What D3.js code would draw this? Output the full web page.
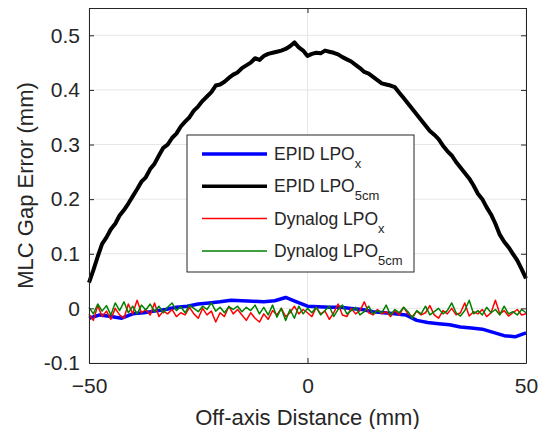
<!DOCTYPE html>
<html>
<head>
<meta charset="utf-8">
<script src="https://cdn.jsdelivr.net/npm/d3@7"></script>
<style>
  body { margin: 0; background: #fff; }
  svg { font-family: "Liberation Sans", Arial, Helvetica, sans-serif; }
</style>
</head>
<body>
<div id="chart"></div>
<script>
// x positions (mm)
const xFine = d3.range(-50, 51, 1);
const xCoarse = d3.range(-50, 50.1, 2.5);

// EPID LPO_5cm (black), 1 mm steps
const epid5cm = [
    0.047, 0.070, 0.095, 0.118, 0.130, 0.145, 0.155, 0.170, 0.180, 0.192,
    0.205, 0.218, 0.232, 0.240, 0.255, 0.265, 0.280, 0.294, 0.300, 0.312,
    0.320, 0.333, 0.342, 0.350, 0.362, 0.370, 0.380, 0.388, 0.396, 0.408,
    0.410, 0.415, 0.422, 0.428, 0.432, 0.440, 0.445, 0.450, 0.458, 0.455,
    0.462, 0.466, 0.468, 0.470, 0.472, 0.475, 0.480, 0.487, 0.478, 0.472,
    0.462, 0.466, 0.468, 0.467, 0.472, 0.470, 0.468, 0.465, 0.460, 0.456,
    0.452, 0.446, 0.440, 0.433, 0.430, 0.424, 0.418, 0.412, 0.410, 0.408,
    0.405, 0.395, 0.385, 0.375, 0.365, 0.355, 0.345, 0.335, 0.325, 0.318,
    0.310, 0.298, 0.288, 0.280, 0.268, 0.258, 0.248, 0.238, 0.225, 0.210,
    0.200, 0.185, 0.172, 0.155, 0.135, 0.122, 0.112, 0.100, 0.088, 0.072,
    0.055
];

// EPID LPO_x (blue), 2.5 mm steps
const epidX = [
    -0.018, -0.012, -0.015, -0.018, -0.010, -0.008, -0.005, -0.002, 0.002, 0.004,
    0.008, 0.010, 0.012, 0.015, 0.014, 0.013, 0.012, 0.014, 0.020, 0.012,
    0.004, 0.003, 0.002, 0.002, 0.000, -0.002, -0.006, -0.008, -0.010, -0.012,
    -0.022, -0.026, -0.028, -0.030, -0.034, -0.036, -0.038, -0.044, -0.050, -0.052,
    -0.045
];

// Dynalog LPO_x (red), 1 mm steps
const dynX = [
    -0.010, -0.022, 0.005, -0.015, -0.005, -0.020, 0.000, -0.012, -0.018, 0.008,
    -0.010, 0.015, -0.008, -0.002, -0.012, 0.010, -0.015, -0.005, -0.010, -0.002,
    -0.015, -0.008, -0.012, 0.002, -0.010, -0.018, 0.000, -0.012, -0.005, -0.025,
    -0.008, -0.015, 0.004, -0.010, -0.002, -0.012, -0.022, -0.008, -0.018, -0.025,
    -0.010, -0.020, -0.004, -0.012, 0.000, -0.015, -0.008, 0.004, -0.010, -0.002,
    -0.008, -0.015, 0.002, -0.010, -0.005, -0.020, -0.008, 0.008, -0.012, -0.015,
    0.000, -0.010, -0.004, 0.012, -0.008, -0.012, -0.002, -0.010, -0.006, -0.015,
    -0.004, -0.012, 0.002, -0.010, -0.015, -0.005, -0.012, -0.008, 0.005, -0.012,
    -0.018, -0.004, -0.010, 0.000, -0.012, -0.008, 0.010, -0.014, -0.006, -0.010,
    -0.002, -0.015, -0.008, 0.015, -0.010, -0.004, -0.014, -0.008, -0.002, -0.012,
    -0.010
];

// Dynalog LPO_5cm (green), 1 mm steps
const dyn5cm = [
    0.002, -0.010, 0.008, -0.005, 0.005, -0.012, 0.010, -0.004, 0.012, -0.008,
    0.004, -0.010, 0.006, -0.003, 0.008, -0.006, 0.004, -0.008, 0.002, 0.010,
    -0.004, 0.003, -0.008, 0.006, 0.000, -0.006, 0.004, -0.002, 0.010, -0.005,
    0.002, -0.008, 0.003, -0.002, 0.004, -0.006, 0.002, -0.004, 0.006, -0.010,
    0.002, -0.012, 0.006, -0.016, 0.000, -0.022, -0.002, -0.018, 0.004, -0.010,
    0.000, -0.008, 0.002, -0.012, -0.004, 0.004, -0.015, -0.002, 0.006, -0.010,
    -0.004, 0.002, -0.012, -0.006, 0.004, -0.010, -0.004, -0.008, 0.006, -0.012,
    -0.002, -0.008, 0.002, -0.006, -0.018, -0.004, -0.010, 0.004, -0.012, -0.006,
    0.000, -0.010, -0.004, 0.010, -0.008, -0.014, -0.004, 0.015, -0.010, -0.004,
    -0.012, 0.002, -0.008, -0.002, -0.012, 0.004, -0.010, -0.006, -0.012, -0.002,
    -0.008
];

const xTicks = [-50, 0, 50];
const yTicks = [-0.1, 0, 0.1, 0.2, 0.3, 0.4, 0.5];
const yTickLabels = ['-0.1', '0', '0.1', '0.2', '0.3', '0.4', '0.5'];

const legendItems = [
    { name: 'EPID LPO', sub: 'x', color: '#0000ff', width: 3.5 },
    { name: 'EPID LPO', sub: '5cm', color: '#000000', width: 3.5 },
    { name: 'Dynalog LPO', sub: 'x', color: '#ff0000', width: 1.5 },
    { name: 'Dynalog LPO', sub: '5cm', color: '#008000', width: 1.5 }
];

const width = 538, height = 429;
const margin = { top: 8, right: 12, bottom: 66, left: 89 };
const innerW = width - margin.left - margin.right;
const innerH = height - margin.top - margin.bottom;
const textColor = '#262626';

const svg = d3.select('#chart').append('svg')
    .attr('width', width)
    .attr('height', height);

const g = svg.append('g')
    .attr('transform', `translate(${margin.left},${margin.top})`);

const x = d3.scaleLinear().domain([-50, 50]).range([0, innerW]);
const y = d3.scaleLinear().domain([-0.1, 0.55]).range([innerH, 0]);

// grid
g.append('g')
    .selectAll('line')
    .data(yTicks)
    .join('line')
    .attr('x1', 0).attr('x2', innerW)
    .attr('y1', d => y(d)).attr('y2', d => y(d))
    .attr('stroke', '#e6e6e6').attr('stroke-width', 1);

g.append('g')
    .selectAll('line')
    .data(xTicks)
    .join('line')
    .attr('x1', d => x(d)).attr('x2', d => x(d))
    .attr('y1', 0).attr('y2', innerH)
    .attr('stroke', '#e6e6e6').attr('stroke-width', 1);

// series
const line = d3.line().x(d => x(d[0])).y(d => y(d[1]));

const series = [
    { xs: xCoarse, ys: epidX, color: '#0000ff', w: 3.5 },
    { xs: xFine, ys: epid5cm, color: '#000000', w: 4 },
    { xs: xFine, ys: dynX, color: '#ff0000', w: 1.5 },
    { xs: xFine, ys: dyn5cm, color: '#008000', w: 1.5 }
];

series.forEach(s => {
    g.append('path')
        .datum(s.xs.map((v, i) => [v, s.ys[i]]))
        .attr('fill', 'none')
        .attr('stroke', s.color)
        .attr('stroke-width', s.w)
        .attr('stroke-linejoin', 'round')
        .attr('d', line);
});

// axes (MATLAB style box with inward ticks)
const tickLen = 5;
const xAxisB = d3.axisBottom(x).tickValues(xTicks).tickSizeInner(-tickLen).tickSizeOuter(0).tickPadding(15);
const xAxisT = d3.axisTop(x).tickValues(xTicks).tickSizeInner(-tickLen).tickSizeOuter(0).tickFormat('');
const yAxisL = d3.axisLeft(y).tickValues(yTicks).tickSizeInner(-tickLen).tickSizeOuter(0).tickPadding(9)
    .tickFormat((d, i) => yTickLabels[i]);
const yAxisR = d3.axisRight(y).tickValues(yTicks).tickSizeInner(-tickLen).tickSizeOuter(0).tickFormat('');

const axes = [
    g.append('g').attr('transform', `translate(0,${innerH})`).call(xAxisB),
    g.append('g').call(xAxisT),
    g.append('g').call(yAxisL),
    g.append('g').attr('transform', `translate(${innerW},0)`).call(yAxisR)
];

axes.forEach(a => {
    a.select('.domain').attr('stroke', textColor);
    a.selectAll('.tick line').attr('stroke', textColor);
    a.selectAll('.tick text')
        .attr('fill', textColor)
        .style('font-size', '21px')
        .style('font-family', '"Liberation Sans", Arial, sans-serif');
});

// axis labels
svg.append('text')
    .attr('x', margin.left + innerW / 2)
    .attr('y', 425)
    .attr('text-anchor', 'middle')
    .attr('fill', textColor)
    .style('font-size', '22px')
    .text('Off-axis Distance (mm)');

svg.append('text')
    .attr('transform', `translate(33,${margin.top + innerH / 2}) rotate(-90)`)
    .attr('text-anchor', 'middle')
    .attr('fill', textColor)
    .style('font-size', '22px')
    .text('MLC Gap Error (mm)');

// legend
const legend = svg.append('g').attr('transform', 'translate(187,135)');

legend.append('rect')
    .attr('width', 227).attr('height', 137)
    .attr('fill', '#fff')
    .attr('stroke', textColor)
    .attr('stroke-width', 1);

const rows = legend.selectAll('g.item')
    .data(legendItems)
    .join('g')
    .attr('transform', (d, i) => `translate(0,${19 + i * 32.3})`);

rows.append('line')
    .attr('x1', 15).attr('x2', 80)
    .attr('stroke', d => d.color)
    .attr('stroke-width', d => d.width);

const labels = rows.append('text')
    .attr('x', 87)
    .attr('y', 6)
    .attr('fill', textColor)
    .style('font-size', '17.5px');

labels.append('tspan').text(d => d.name);
labels.append('tspan')
    .attr('dy', 8)
    .style('font-size', '13px')
    .text(d => d.sub);
</script>
</body>
</html>
